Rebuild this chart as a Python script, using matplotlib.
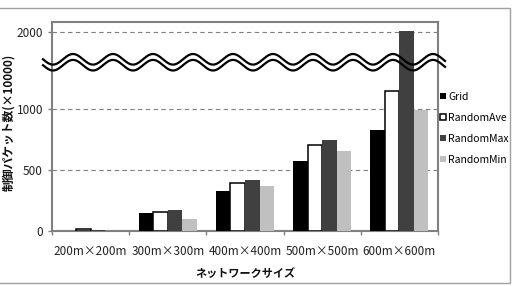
import numpy as np
import matplotlib
matplotlib.use("Agg")
import matplotlib.pyplot as plt
from matplotlib.lines import Line2D
from matplotlib.patches import Rectangle

plt.rcParams['font.family'] = ['Noto Sans CJK JP', 'DejaVu Sans']

categories = ["200m×200m", "300m×300m", "400m×400m", "500m×500m", "600m×600m"]
series_names = ["Grid", "RandomAve", "RandomMax", "RandomMin"]
grid_vals = [0, 145, 328, 574, 825]
rand_ave = [15, 158, 395, 705, 1240]
rand_max = [10, 170, 420, 746, 2020]
rand_min = [0, 96, 371, 656, 992]
y_ticks = [0, 500, 1000, 2000]

W, H = 515, 286
fig = plt.figure(figsize=(W / 100, H / 100), dpi=100)
ax = fig.add_axes([52 / W, 1 - 231 / H, (438 - 52) / W, (231 - 22) / H])

r = 0.627
def fwd(v):
    v = np.asarray(v, dtype=float)
    return np.where(v <= 1000, v, 1000 + (v - 1000) * r)
def inv(u):
    u = np.asarray(u, dtype=float)
    return np.where(u <= 1000, u, 1000 + (u - 1000) / r)
ax.set_yscale('function', functions=(fwd, inv))

x = np.arange(len(categories))
bw = 0.188
styles = [
    dict(color="#000000"),
    dict(color="#ffffff", edgecolor="#000000", linewidth=1.1),
    dict(color="#404040"),
    dict(color="#c0c0c0"),
]
data = [grid_vals, rand_ave, rand_max, rand_min]
handles = []
for i, (vals, st) in enumerate(zip(data, styles)):
    b = ax.bar(x + (i - 1.5) * bw, vals, bw, label=series_names[i], zorder=3, **st)
    handles.append(b)

ax.set_xlim(-0.5, len(categories) - 0.5)
ax.set_ylim(0, 2137)
ax.set_yticks(y_ticks)
ax.set_yticklabels([str(t) for t in y_ticks])
ax.yaxis.set_minor_locator(matplotlib.ticker.NullLocator())
ax.set_xticks(x)
ax.set_xticklabels(categories)
ax.set_xticks(np.arange(len(categories) + 1) - 0.5, minor=True)
ax.tick_params(axis='x', which='major', length=0, pad=10, labelsize=8.5, colors='#222222')
ax.tick_params(axis='x', which='minor', length=3, width=1, color='#808080', direction='out')
ax.tick_params(axis='y', which='major', length=3, width=1, color='#808080', pad=3.5, labelsize=8.5, labelcolor='#222222')
for t in ax.get_yticklabels():
    t.set_color('#222222')

for y in [500, 1000, 2000]:
    ax.axhline(y, color='#808080', linestyle=(0, (4, 3)), linewidth=0.8, zorder=1)

for s in ax.spines.values():
    s.set_color('#808080')
    s.set_linewidth(1.5)

# break wave decoration
xs = np.linspace(43, 445, 600)
for yc in (59.3, 65.2):
    ys = yc - 5.3 * np.cos(2 * np.pi * (xs - 73) / 40)
    fig.add_artist(Line2D(xs / W, 1 - ys / H, color='black', linewidth=1.6,
                          transform=fig.transFigure, zorder=5))

fig.text(245 / W, 1 - 273 / H, "ネットワークサイズ", ha='center', va='center',
         fontsize=8, fontweight='bold', color='#111111')
fig.text(9 / W, 1 - 122 / H, "制御パケット数(×10000)", ha='center', va='center',
         rotation=90, fontsize=8.5, fontweight='bold', color='#111111')

leg = fig.legend(handles=handles, labels=series_names, loc='upper left',
                 bbox_to_anchor=(440 / W, 1 - 92 / H), frameon=False,
                 fontsize=7.5, handlelength=0.55, handleheight=0.55,
                 handletextpad=0.25, labelspacing=1.05, borderpad=0, borderaxespad=0)

fig.add_artist(Rectangle((-2 / W, 1 - 283 / H), 512 / W, 275 / H, fill=False,
                         edgecolor='#a0a0a0', linewidth=1, transform=fig.transFigure))

fig.savefig("out.png", dpi=100)
